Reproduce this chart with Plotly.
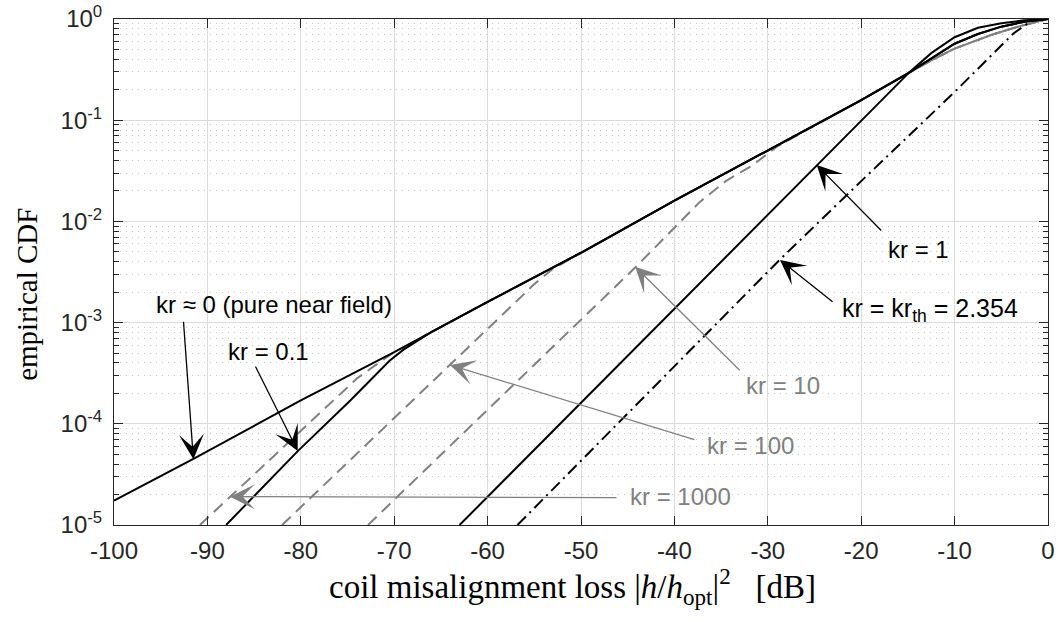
import plotly.graph_objects as go

# ---- data ----
kr0_x = [-100, -91.5, -80, -70, -60, -50, -40, -30, -20, -15, -12.5, -10, -7.5, -5, -2.5, 0]
kr0_y = [1.74e-5, 4.5e-5, 1.7e-4, 5.1e-4, 1.6e-3, 4.9e-3, 1.6e-2, 5.0e-2, 0.158, 0.29, 0.41, 0.57, 0.71, 0.84, 0.94, 1.0]

kr01_x = [-88, -80.3, -74.7, -70.5, -69, -67.5, -66, -60, -50, -40, -30, -20, -15, -12.5, -10, -7.5, -5, -2.5, 0]
kr01_y = [1e-5, 5.4e-5, 1.7e-4, 4.2e-4, 5.4e-4, 6.6e-4, 8.1e-4, 1.6e-3, 4.9e-3, 1.6e-2, 5.0e-2, 0.158, 0.29, 0.41, 0.57, 0.71, 0.84, 0.94, 1.0]

kr1_x = [-63, -24.8, -14.8, -12.5, -10, -7.5, -5, -2.5, 0]
kr1_y = [1e-5, 0.036, 0.30, 0.46, 0.66, 0.82, 0.91, 0.97, 1.0]

krth_x = [-56.8, -28.7, -20, -10, -3.7, -1.5, 0]
krth_y = [1e-5, 4.2e-3, 0.025, 0.19, 0.72, 1.0, 1.0]

kr10_x = [-72.8, -44.2, -37.3, -34.5, -31.6, -29, -20, -15, -12.5, -10, -6, -3, 0]
kr10_y = [1e-5, 3.5e-3, 0.0155, 0.025, 0.036, 0.055, 0.158, 0.29, 0.39, 0.51, 0.70, 0.85, 1.0]

kr100_x = [-82, -64, -58, -55, -53, -50, -40, -30, -20, -15, -12.5, -10, -6, -3, 0]
kr100_y = [1e-5, 3.8e-4, 1.3e-3, 2.4e-3, 3.4e-3, 4.9e-3, 1.6e-2, 5.0e-2, 0.158, 0.29, 0.39, 0.51, 0.70, 0.85, 1.0]

kr1000_x = [-90.8, -80, -74, -72, -70, -60, -50, -40, -30, -20, -15, -12.5, -10, -6, -3, 0]
kr1000_y = [1e-5, 8.5e-5, 2.8e-4, 3.8e-4, 5.1e-4, 1.6e-3, 4.9e-3, 1.6e-2, 5.0e-2, 0.158, 0.29, 0.39, 0.51, 0.70, 0.85, 1.0]

x_ticks = [-100, -90, -80, -70, -60, -50, -40, -30, -20, -10, 0]
x_ticktext = ["-100", "-90", "-80", "-70", "-60", "-50", "-40", "-30", "-20", "-10", "0"]
y_ticks = [1e-5, 1e-4, 1e-3, 1e-2, 1e-1, 1]
y_ticktext = ["10<sup>-5</sup>", "10<sup>-4</sup>", "10<sup>-3</sup>",
              "10<sup>-2</sup>", "10<sup>-1</sup>", "10<sup>0</sup>"]
y_minor = [m * 10.0 ** e for e in range(-5, 0) for m in range(2, 10)]

BLACK = "#000000"
GRAY = "#808080"
DASH = "12px,7px"
DASHDOT = "12px,5px,2px,5px"

fig = go.Figure()
for xs, ys in [(kr1000_x, kr1000_y), (kr100_x, kr100_y), (kr10_x, kr10_y)]:
    fig.add_trace(go.Scatter(x=xs, y=ys, mode="lines",
                             line=dict(color=GRAY, width=2, dash=DASH),
                             showlegend=False, hoverinfo="skip"))
fig.add_trace(go.Scatter(x=krth_x, y=krth_y, mode="lines",
                         line=dict(color=BLACK, width=2, dash=DASHDOT),
                         showlegend=False, hoverinfo="skip"))
for xs, ys in [(kr1_x, kr1_y), (kr01_x, kr01_y), (kr0_x, kr0_y)]:
    fig.add_trace(go.Scatter(x=xs, y=ys, mode="lines",
                             line=dict(color=BLACK, width=2),
                             showlegend=False, hoverinfo="skip"))

FONT = "Liberation Sans, Arial, sans-serif"
SERIF = "Liberation Serif, Times New Roman, serif"
ann_font = dict(family=FONT, size=24, color=BLACK)
ann_font_g = dict(family=FONT, size=24, color=GRAY)

# text labels (x in dB, y as log10)
labels = [
    ("kr ≈ 0 (pure near field)", -82.9, -2.826, ann_font, "center"),
    ("kr = 0.1", -83.5, -3.29, ann_font, "center"),
    ("kr = 1", -13.9, -2.273, ann_font, "center"),
    ("kr = kr<sub>th</sub> = 2.354", -22.3, -2.88, dict(family=FONT, size=25, color=BLACK), "left"),
    ("kr = 10", -28.4, -3.617, ann_font_g, "center"),
    ("kr = 100", -31.9, -4.21, ann_font_g, "center"),
    ("kr = 1000", -39.4, -4.723, ann_font_g, "center"),
]
for txt, x, y, f, xa in labels:
    fig.add_annotation(x=x, y=y, xref="x", yref="y", text=txt, showarrow=False,
                       font=f, xanchor=xa, yanchor="middle")

# arrows: tip (x dB, log10 y) and tail offset in pixels
arrows = [
    (-91.5, -4.35, -10, -139, BLACK),
    (-80.33, -4.269, -43, -86, BLACK),
    (-24.76, -1.443, 66, 67, BLACK),
    (-28.69, -2.381, 54, 43, BLACK),
    (-44.2, -2.448, 106, 105, GRAY),
    (-64.03, -3.419, 246, 75, GRAY),
    (-87.58, -4.72, 388, 1, GRAY),
]
for x, y, ax, ay, c in arrows:
    fig.add_annotation(x=x, y=y, xref="x", yref="y", text="", showarrow=True,
                       ax=ax, ay=ay, axref="pixel", ayref="pixel",
                       arrowhead=3, arrowsize=3.2, arrowwidth=1.3, arrowcolor=c,
                       standoff=0)

# axis titles as annotations (positioned like the reference)
fig.add_annotation(x=0.4904, y=-0.1225, xref="paper", yref="paper", showarrow=False,
                   text="coil misalignment loss |<i>h</i>/<i>h</i><sub>opt</sub>|<sup>2</sup>   [dB]",
                   font=dict(family=SERIF, size=33, color=BLACK),
                   xanchor="center", yanchor="middle")
fig.add_annotation(x=-0.0931, y=0.455, xref="paper", yref="paper", showarrow=False,
                   text="empirical CDF", textangle=-90,
                   font=dict(family=SERIF, size=29, color=BLACK),
                   xanchor="center", yanchor="middle")

axis_common = dict(showline=True, linecolor="#262626", linewidth=1,
                   ticks="inside", mirror="allticks", ticklen=9, tickwidth=1,
                   tickcolor="#262626", showgrid=True, gridcolor="#dcdcdc",
                   gridwidth=1, zeroline=False,
                   tickfont=dict(family=FONT, size=24, color="#262626"))

fig.update_xaxes(range=[-100, 0], tickmode="array", tickvals=x_ticks,
                 ticktext=x_ticktext, ticklabelstandoff=4, **axis_common)
fig.update_yaxes(type="log", range=[-5, 0], tickmode="array", tickvals=y_ticks,
                 ticktext=y_ticktext, ticklabelstandoff=6,
                 minor=dict(tickmode="array", tickvals=y_minor, ticks="inside",
                            ticklen=5, tickcolor="#262626", showgrid=True,
                            gridcolor="#c8c8c8", griddash="1px,5px", gridwidth=1.3),
                 **axis_common)

fig.update_layout(width=1058, height=622,
                  margin=dict(l=114, r=10, t=19, b=97, autoexpand=False),
                  paper_bgcolor="white", plot_bgcolor="white",
                  showlegend=False)

fig.write_html("out.html")
